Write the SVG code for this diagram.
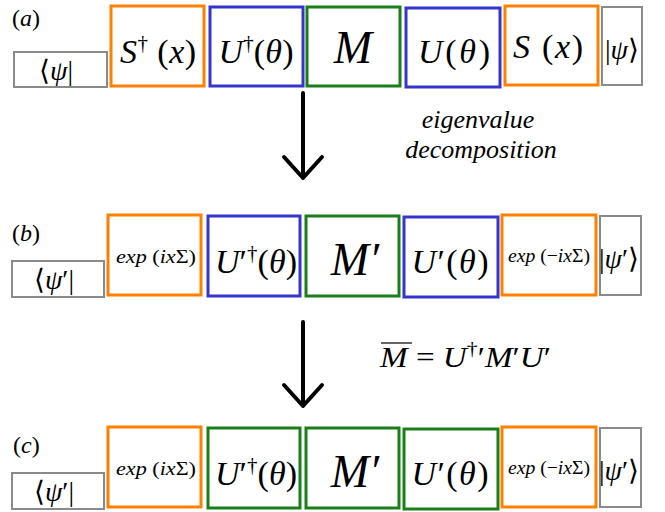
<svg xmlns="http://www.w3.org/2000/svg" width="665" height="512" viewBox="0 0 665 512">
<style>
  .box{fill:#fff;stroke-width:3}
  .or{stroke:#ff8000}
  .bl{stroke:#3535cc}
  .gr{stroke:#1a7f1a}
  .gy{stroke:#8a8a8a;stroke-width:2;fill:#fff}
  text{font-family:"Liberation Serif",serif;fill:#000}
  .it{font-style:italic}
  .lbl{font-size:24px}
  .big{font-size:34px;text-anchor:middle}
  .huge{font-size:46px;text-anchor:middle;font-style:italic}
  .sm{font-size:19px;text-anchor:middle}
  .ket{font-size:28px;text-anchor:middle}
  .note{font-size:26px;font-style:italic;text-anchor:middle}
  .arr{stroke:#000;stroke-width:4;fill:none;stroke-linecap:round;stroke-linejoin:round}
</style>

<!-- Row (a) -->
<text class="lbl" x="12" y="26">(<tspan class="it">a</tspan>)</text>
<g id="a_bra"><rect class="gy" x="14" y="52" width="93" height="35"/><text class="ket" x="56" y="80">⟨<tspan class="it">ψ</tspan>|</text></g>
<g id="a_Sdag"><rect class="box or" x="111" y="6" width="93" height="80"/><text class="big" x="158" y="63" textLength="76"><tspan class="it">S</tspan><tspan font-size="21" dy="-13">†</tspan><tspan dy="13"> (</tspan><tspan class="it">x</tspan>)</text></g>
<g id="a_Udag"><rect class="box bl" x="210" y="7" width="93" height="79"/><text class="big" x="256" y="63" textLength="75"><tspan class="it">U</tspan><tspan font-size="21" dy="-13">†</tspan><tspan dy="13">(</tspan><tspan class="it">θ</tspan>)</text></g>
<g id="a_M"><rect class="box gr" x="307" y="7" width="93" height="79"/><text class="huge" x="353" y="63">M</text></g>
<g id="a_U"><rect class="box bl" x="406" y="8" width="94" height="79"/><text class="big" x="454" y="63" textLength="72"><tspan class="it">U</tspan>(<tspan class="it">θ</tspan>)</text></g>
<g id="a_S"><rect class="box or" x="505" y="6" width="93" height="79"/><text class="big" x="548" y="58" textLength="70"><tspan class="it">S</tspan> (<tspan class="it">x</tspan>)</text></g>
<g id="a_ket"><rect class="gy" x="602" y="7" width="40" height="78"/><text class="ket" x="622" y="59">|<tspan class="it">ψ</tspan>⟩</text></g>

<!-- Row (b) -->
<text class="lbl" x="12" y="241">(<tspan class="it">b</tspan>)</text>
<g id="b_bra"><rect class="gy" x="12" y="261" width="92" height="36"/><text class="ket" x="54" y="289">⟨<tspan class="it">ψ</tspan>′|</text></g>
<g id="b_exp1"><rect class="box or" x="108" y="215" width="93" height="80"/><text class="sm" x="156" y="263" textLength="80" lengthAdjust="spacingAndGlyphs"><tspan class="it">exp</tspan> (<tspan class="it">ix</tspan>Σ)</text></g>
<g id="b_Udag"><rect class="box bl" x="208" y="216" width="92" height="80"/><text class="big" x="256" y="273" textLength="82"><tspan class="it">U</tspan>′<tspan font-size="21" dy="-13">†</tspan><tspan dy="13">(</tspan><tspan class="it">θ</tspan>)</text></g>
<g id="b_M"><rect class="box gr" x="306" y="216" width="93" height="80"/><text class="huge" x="355" y="275">M′</text></g>
<g id="b_U"><rect class="box bl" x="404" y="217" width="94" height="80"/><text class="big" x="450" y="273" textLength="77"><tspan class="it">U</tspan>′(<tspan class="it">θ</tspan>)</text></g>
<g id="b_exp2"><rect class="box or" x="502" y="215" width="94" height="80"/><text class="sm" x="549" y="262" textLength="82" lengthAdjust="spacingAndGlyphs"><tspan class="it">exp</tspan> (−<tspan class="it">ix</tspan>Σ)</text></g>
<g id="b_ket"><rect class="gy" x="600" y="216" width="41" height="79"/><text class="ket" x="619" y="268">|<tspan class="it">ψ</tspan>′⟩</text></g>

<!-- Row (c) -->
<text class="lbl" x="13" y="453">(<tspan class="it">c</tspan>)</text>
<g id="c_bra"><rect class="gy" x="12" y="473" width="92" height="36"/><text class="ket" x="54" y="501">⟨<tspan class="it">ψ</tspan>′|</text></g>
<g id="c_exp1"><rect class="box or" x="108" y="427" width="93" height="80"/><text class="sm" x="156" y="475" textLength="80" lengthAdjust="spacingAndGlyphs"><tspan class="it">exp</tspan> (<tspan class="it">ix</tspan>Σ)</text></g>
<g id="c_Udag"><rect class="box gr" x="208" y="428" width="92" height="80"/><text class="big" x="256" y="485" textLength="82"><tspan class="it">U</tspan>′<tspan font-size="21" dy="-13">†</tspan><tspan dy="13">(</tspan><tspan class="it">θ</tspan>)</text></g>
<g id="c_M"><rect class="box gr" x="306" y="428" width="93" height="80"/><text class="huge" x="355" y="487">M′</text></g>
<g id="c_U"><rect class="box gr" x="404" y="429" width="94" height="80"/><text class="big" x="450" y="485" textLength="77"><tspan class="it">U</tspan>′(<tspan class="it">θ</tspan>)</text></g>
<g id="c_exp2"><rect class="box or" x="502" y="427" width="94" height="80"/><text class="sm" x="549" y="474" textLength="82" lengthAdjust="spacingAndGlyphs"><tspan class="it">exp</tspan> (−<tspan class="it">ix</tspan>Σ)</text></g>
<g id="c_ket"><rect class="gy" x="600" y="428" width="41" height="79"/><text class="ket" x="619" y="480">|<tspan class="it">ψ</tspan>′⟩</text></g>

<!-- connectors -->
<g id="connectors">
  <path class="arr" d="M303 93 V178 M284 157 L303 178 L322 157"/>
  <path class="arr" d="M303 322 V406 M284 385 L303 406 L322 385"/>
</g>

<!-- annotations -->
<text class="note" x="478" y="128">eigenvalue</text>
<text class="note" x="481" y="158">decomposition</text>
<g id="mbar">
  <line x1="381" y1="343" x2="412" y2="343" stroke="#000" stroke-width="1.2"/>
  <text x="380" y="367" font-size="29" textLength="171" lengthAdjust="spacingAndGlyphs"><tspan class="it">M</tspan> = <tspan class="it">U</tspan><tspan font-size="19" dy="-12">†</tspan><tspan dy="12">′</tspan><tspan class="it">M</tspan>′<tspan class="it">U</tspan>′</text>
</g>
</svg>
